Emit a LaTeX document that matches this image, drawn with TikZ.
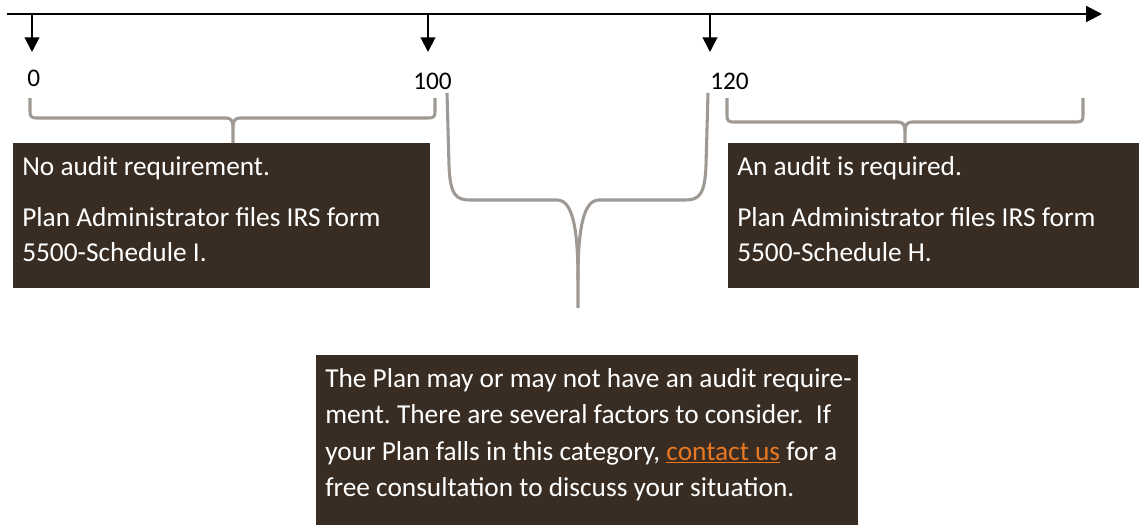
\documentclass[tikz,border=0pt]{standalone}
\usepackage{fontspec}
\setmainfont{Carlito}
\usetikzlibrary{arrows.meta}
\definecolor{boxbrown}{RGB}{57,45,35}
\definecolor{bracegray}{RGB}{158,153,148}
\definecolor{linkorange}{RGB}{232,119,34}
\frenchspacing
\begin{document}
\begin{tikzpicture}[x=0.75pt,y=-0.75pt,
  axisline/.style={line width=1.5pt, black},
  tickarrow/.style={line width=1.5pt, black, -{Triangle[length=11pt,width=11pt]}},
  bracepath/.style={line width=2.3pt, bracegray, line join=round, line cap=butt},
  infobox/.style={fill=boxbrown, draw=none, inner sep=0pt, anchor=north west},
  boxtext/.style={text=white, font=\fontsize{20.5}{24}\selectfont, anchor=base west, inner sep=0pt},
  numlabel/.style={font=\fontsize{19}{22}\selectfont, anchor=base west, inner sep=0pt}]

\useasboundingbox (0,0) rectangle (1139,525);

% axis
\coordinate (axS) at (7,14);
\coordinate (axE) at (1102,14);
\draw[axisline, -{Triangle[length=12pt,width=12pt]}] (axS) -- (axE);

% tick arrows
\coordinate (t0) at (32,14);   \coordinate (t0e) at (32,52);
\coordinate (t1) at (428,14);  \coordinate (t1e) at (428,52);
\coordinate (t2) at (710,14);  \coordinate (t2e) at (710,52);
\draw[tickarrow] (t0) -- (t0e);
\draw[tickarrow] (t1) -- (t1e);
\draw[tickarrow] (t2) -- (t2e);

% numbers
\node[numlabel] (n0) at (27,86) {0};
\node[numlabel] (n100) at (413,89) {100};
\node[numlabel] (n120) at (710,89) {120};

% boxes
\node[infobox, minimum width=312.75pt, minimum height=108.75pt] (lbox) at (13,143) {};
\node[infobox, minimum width=308.25pt, minimum height=108.75pt] (rbox) at (728,143) {};
\node[infobox, minimum width=406.5pt, minimum height=127.5pt] (mbox) at (316,355) {};

% left brace
\draw[bracepath] (30,98) -- (30,111) .. controls (30,117) and (31,118) .. (38,118)
  -- (226,118) .. controls (231,118) and (233,121) .. (233,127) -- (233,143);
\draw[bracepath] (435,98) -- (435,111) .. controls (435,117) and (434,118) .. (427,118)
  -- (240,118) .. controls (235,118) and (233,121) .. (233,127);

% right brace
\draw[bracepath] (727,98) -- (727,115) .. controls (727,121) and (728,122) .. (735,122)
  -- (898,122) .. controls (903,122) and (905,125) .. (905,131) -- (905,143);
\draw[bracepath] (1083,98) -- (1083,115) .. controls (1083,121) and (1082,122) .. (1075,122)
  -- (912,122) .. controls (907,122) and (905,125) .. (905,131);

% middle brace
\draw[bracepath] (447,93) -- (449,165) .. controls (450,195) and (456,200) .. (470,200)
  -- (557,200) .. controls (572,200) and (578,226) .. (578,280) -- (578,308);
\draw[bracepath] (708,93) -- (706,165) .. controls (705,195) and (699,200) .. (685,200)
  -- (599,200) .. controls (584,200) and (578,226) .. (578,280);

% left box text
\node[boxtext] (l1) at (22,175) {No audit requirement.};
\node[boxtext] (l2) at (22,226) {Plan Administrator files IRS form};
\node[boxtext] (l3) at (22,261) {5500-Schedule I.};

% right box text
\node[boxtext] (r1) at (737,175) {An audit is required.};
\node[boxtext] (r2) at (737,226) {Plan Administrator files IRS form};
\node[boxtext] (r3) at (737,261) {5500-Schedule H.};

% middle box text
\node[boxtext] (m1) at (325,387) {The Plan may or may not have an audit require-};
\node[boxtext] (m2) at (325,423) {ment. There are several factors to consider.\ \ If};
\node[boxtext] (m3) at (325,460) {your Plan falls in this category, \textcolor{linkorange}{\underline{contact us}} for a};
\node[boxtext] (m4) at (325,496) {free consultation to discuss your situation.};

\end{tikzpicture}
\end{document}
